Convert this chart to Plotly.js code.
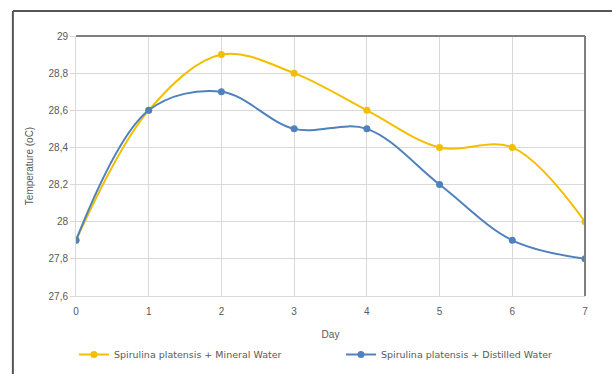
<!DOCTYPE html>
<html><head><meta charset="utf-8">
<script src="https://cdn.plot.ly/plotly-3.0.1.min.js"></script>
<style>html,body{margin:0;padding:0;background:#fff}#chart{width:612px;height:381px}</style>
</head><body><div id="chart"></div>
<script>
const days = [0, 1, 2, 3, 4, 5, 6, 7];
const mineralWater = [27.9, 28.6, 28.9, 28.8, 28.6, 28.4, 28.4, 28.0];
const distilledWater = [27.9, 28.6, 28.7, 28.5, 28.5, 28.2, 27.9, 27.8];
const yTickVals = [27.6, 27.8, 28, 28.2, 28.4, 28.6, 28.8, 29];
const yTickText = ['27,6', '27,8', '28', '28,2', '28,4', '28,6', '28,8', '29'];
const seriesNames = ['Spirulina platensis + Mineral Water', 'Spirulina platensis + Distilled Water'];

const font = {family: 'Liberation Sans, Arial, sans-serif', size: 10, color: '#595959'};
const traces = [
  {x: days, y: mineralWater, name: seriesNames[0], type: 'scatter', mode: 'lines+markers',
   line: {color: '#F2BF00', width: 2, shape: 'spline', smoothing: 1},
   marker: {color: '#F2BF00', size: 7, symbol: 'circle'}},
  {x: days, y: distilledWater, name: seriesNames[1], type: 'scatter', mode: 'lines+markers',
   line: {color: '#4F81BD', width: 2, shape: 'spline', smoothing: 1},
   marker: {color: '#4F81BD', size: 7, symbol: 'circle'}}
];
const layout = {
  width: 612, height: 381,
  margin: {l: 76, r: 27, t: 36, b: 74},
  paper_bgcolor: '#fff', plot_bgcolor: '#fff',
  font: font,
  showlegend: true,
  legend: {orientation: 'h', x: -0.004, xanchor: 'left', y: -0.225, yanchor: 'middle',
           entrywidth: 222, entrywidthmode: 'pixels',
           font: {family: 'DejaVu Sans, sans-serif', size: 9.5, color: '#595959'}},
  xaxis: {range: [0, 7], tickvals: days, ticktext: days.map(String),
          showgrid: true, gridcolor: '#D9D9D9', gridwidth: 1,
          zeroline: false, showline: true, linecolor: '#D9D9D9', linewidth: 1,
          ticks: '', tickfont: font, ticklabelstandoff: 6,
          title: {text: 'Day', font: {family: font.family, size: 10, color: '#595959'}, standoff: 14}},
  yaxis: {range: [27.6, 29], tickvals: yTickVals, ticktext: yTickText,
          showgrid: true, gridcolor: '#D9D9D9', gridwidth: 1,
          zeroline: false, showline: true, linecolor: '#D9D9D9', linewidth: 1,
          ticks: 'outside', ticklen: 5, tickcolor: '#D9D9D9', tickfont: font,
          title: {text: 'Temperature (oC)', font: {family: font.family, size: 10, color: '#595959'}, standoff: 13}},
  shapes: [
    {type: 'line', xref: 'paper', yref: 'paper', x0: 0, x1: 1, y0: 1, y1: 1, line: {color: '#7F7F7F', width: 2}},
    {type: 'line', xref: 'paper', yref: 'paper', x0: 1, x1: 1, y0: 0, y1: 1, line: {color: '#7F7F7F', width: 2}},
    {type: 'line', xref: 'paper', yref: 'paper', x0: -0.124, x1: 1.06, y0: 1.096, y1: 1.096, line: {color: '#555', width: 2}},
    {type: 'line', xref: 'paper', yref: 'paper', x0: -0.124, x1: -0.124, y0: -0.3, y1: 1.096, line: {color: '#555', width: 2}}
  ]
};
Plotly.newPlot('chart', traces, layout, {displayModeBar: false, staticPlot: true});
</script></body></html>
